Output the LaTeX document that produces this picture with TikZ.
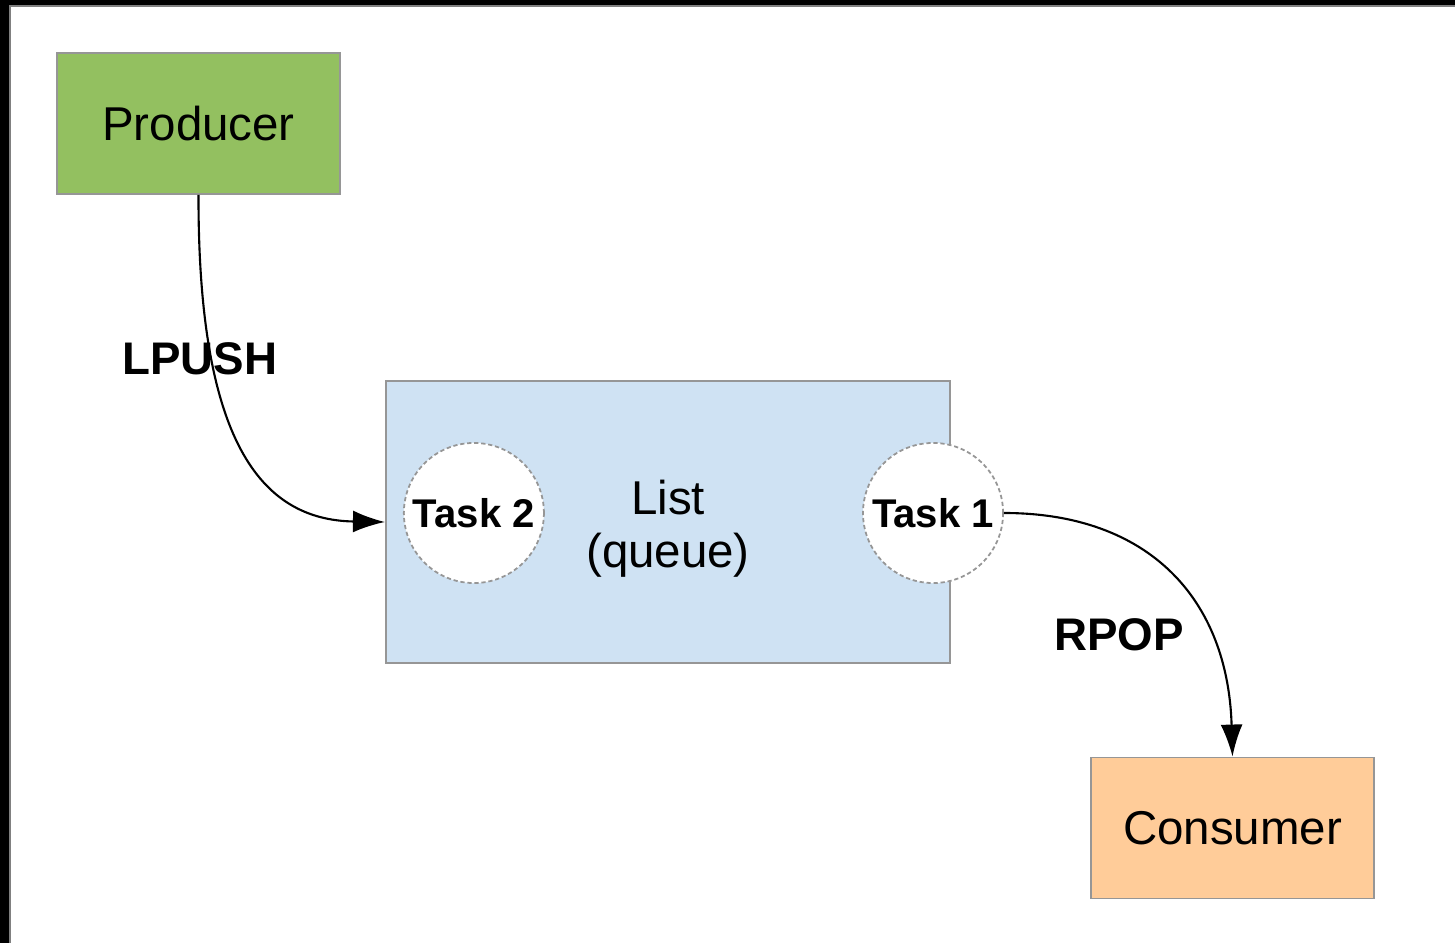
\documentclass[tikz,border=0pt]{standalone}
\usepackage{fontspec}
\setmainfont{Liberation Sans}
\usetikzlibrary{arrows.meta,positioning}

\definecolor{prodgreen}{RGB}{147,192,96}
\definecolor{listblue}{RGB}{207,226,243}
\definecolor{consorange}{RGB}{255,204,153}
\definecolor{edgegray}{RGB}{150,150,150}

\newcommand{\lowered}[1]{\raisebox{-2pt}[\height][\depth]{#1}}

\tikzset{
    block/.style={draw=edgegray, line width=0.5pt, rectangle, minimum width=2.83cm, minimum height=1.41cm, font=\fontsize{13.5}{15}\selectfont},
    task/.style={draw=edgegray, fill=white, circle, dash pattern=on 1.2pt off 0.8pt, line width=0.5pt, minimum size=1.4cm, inner sep=0pt, font=\fontsize{11.4}{13}\selectfont\bfseries},
    cmd/.style={font=\fontsize{13}{15}\selectfont\bfseries}
}

\begin{document}
\begin{tikzpicture}[
            x=0.01cm, y=-0.01cm,
            >={Latex[length=3.2mm,width=2.2mm]}
            ]

            \useasboundingbox (0,0) rectangle (1455,943);
            \fill[white] (0,0) rectangle (1455,943);
            % window frame
            \fill[black] (0,0) rectangle (1455,5);
            \fill[black] (0,0) rectangle (9,943);
            \draw[gray, line width=0.6pt] (9,6) -- (1455,6);
            \draw[gray, line width=0.6pt] (10,6) -- (10,943);

            \node [block, fill=prodgreen] (producer) at (198.5,123.5) {Producer};
            \node [block, fill=listblue, minimum width=5.64cm, minimum height=2.82cm, align=center] (list) at (668,522) {\lowered{List}\\\lowered{(queue)}};
            \node [block, fill=consorange] (consumer) at (1232.5,828) {Consumer};

            \node [task, right=0.18cm of list.west, yshift=0.09cm] (task2) {Task 2};
            \node [task] (task1) at ([xshift=-0.18cm]list.east |- task2) {Task 1};

            \draw[->, line width=0.6pt] (producer.south) .. controls (198,440) and (260,520) .. node[cmd, pos=0.27, xshift=-0.12cm]{LPUSH} (list.west);
            \draw[->, line width=0.6pt] (task1.east) .. controls (1150,513) and (1228,600) .. node[cmd, pos=0.7, left=0.12cm]{RPOP} (consumer.north);
        \end{tikzpicture}
\end{document}
